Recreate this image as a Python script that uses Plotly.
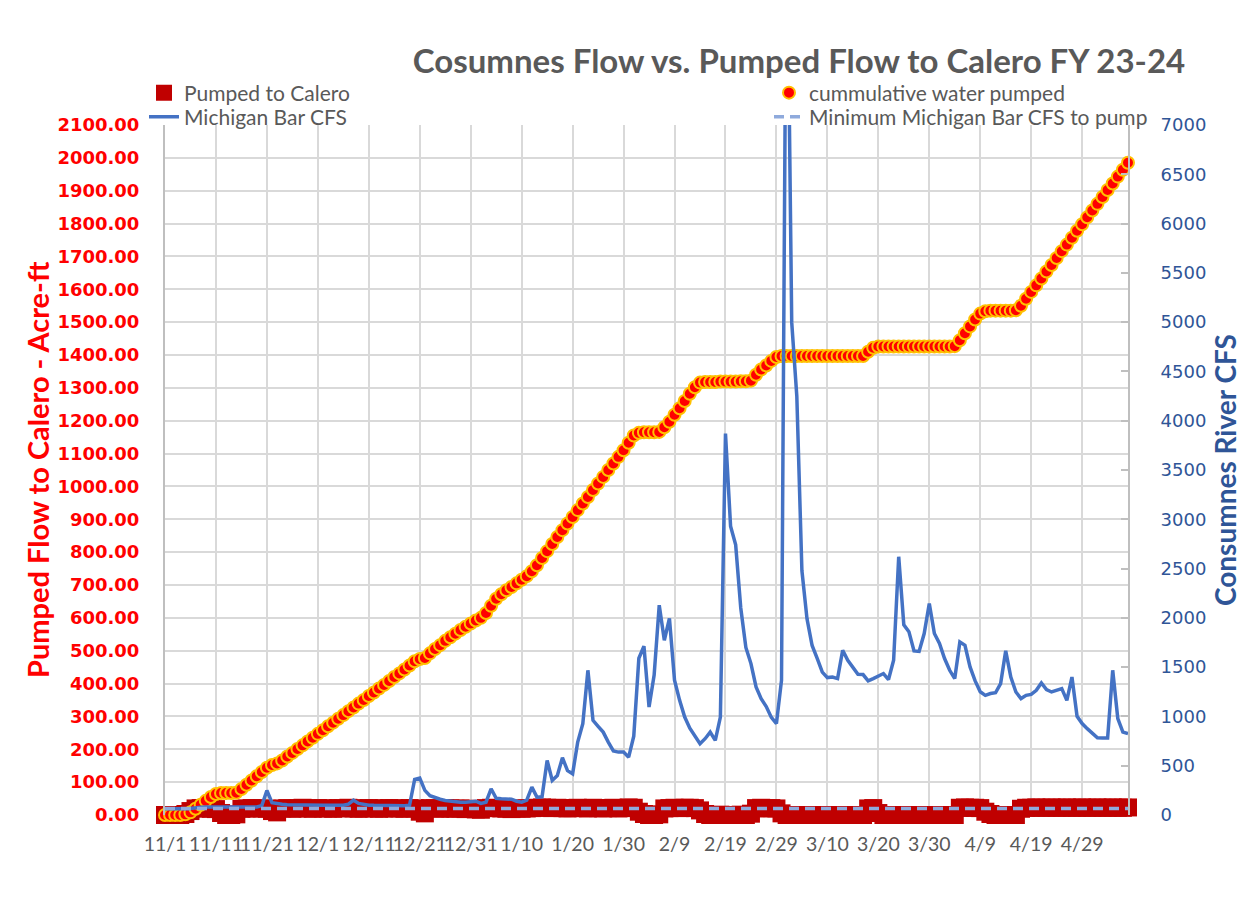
import plotly.graph_objects as go
import pandas as pd

# ---------------- data ----------------
dates = pd.date_range("2023-11-01", "2024-05-08", freq="D").strftime("%Y-%m-%d").tolist()

pumped_to_calero = [
    0, 0, 0, 0, 3, 12, 20, 21, 20, 19, 18, 6, 0, 0, 2, 19, 20, 21, 20, 20,
    19, 12, 8, 20, 21, 19, 20, 22, 20, 19, 21, 20, 20, 19, 21, 20, 22, 20, 19, 20,
    21, 20, 19, 20, 21, 20, 20, 19, 21, 20, 10, 5, 21, 20, 19, 21, 20, 19, 20, 18,
    19, 17, 16, 21, 22, 21, 20, 19, 18, 20, 19, 20, 21, 22, 23, 22, 21, 22, 21, 20,
    21, 22, 21, 20, 22, 21, 20, 21, 22, 20, 21, 23, 22, 10, 3, 0, 0, 2, 20, 21,
    22, 21, 22, 22, 21, 14, 3, 0, 0, 1, 0, 0, 0, 1, 0, 4, 21, 22, 20, 21,
    20, 5, 0, 0, 0, 0, 0, 0, 0, 0, 0, 0, 0, 0, 0, 0, 0, 0, 20, 21,
    6, 0, 0, 0, 0, 0, 0, 0, 0, 0, 0, 0, 0, 0, 0, 0, 22, 23, 22, 22,
    21, 10, 3, 0, 0, 0, 0, 0, 19, 22, 22, 23, 22, 22, 23, 22, 22, 23, 22, 22,
    23, 22, 22, 23, 22, 22, 23, 22, 22, 23,
]

cumulative_water_pumped = [
    0, 0, 0, 0, 2, 8, 19, 31, 43, 55, 64, 67, 67, 67, 68, 79, 92, 105, 118, 131,
    144, 152, 157, 166, 178, 189, 201, 212, 224, 235, 247, 258, 270, 281, 293, 304, 316, 327, 339, 350,
    362, 373, 385, 396, 408, 420, 431, 443, 455, 468, 475, 478, 492, 505, 517, 530, 541, 552, 563, 573,
    583, 592, 600, 615, 637, 658, 672, 684, 694, 705, 716, 727, 742, 760, 782, 803, 825, 846, 867, 887,
    907, 928, 948, 968, 989, 1009, 1029, 1050, 1070, 1090, 1110, 1133, 1155, 1163, 1165, 1165, 1165, 1166, 1180, 1197,
    1218, 1238, 1260, 1282, 1302, 1316, 1318, 1318, 1318, 1319, 1319, 1319, 1319, 1320, 1320, 1322, 1340, 1356, 1368, 1382,
    1394, 1397, 1397, 1397, 1397, 1397, 1397, 1397, 1397, 1397, 1397, 1397, 1397, 1397, 1397, 1397, 1397, 1397, 1410, 1422,
    1426, 1426, 1426, 1426, 1426, 1426, 1426, 1426, 1426, 1426, 1426, 1426, 1426, 1426, 1426, 1427, 1445, 1466, 1487, 1508,
    1526, 1533, 1535, 1535, 1535, 1535, 1535, 1536, 1550, 1571, 1592, 1612, 1633, 1654, 1674, 1695, 1716, 1736, 1757, 1778,
    1798, 1819, 1840, 1860, 1881, 1902, 1922, 1943, 1964, 1985,
]

michigan_bar_cfs = [
    63, 62, 60, 61, 63, 66, 75, 78, 80, 80, 79, 78, 78, 77, 77, 78, 78, 79, 82, 95,
    249, 125, 112, 108, 105, 103, 102, 101, 100, 100, 99, 99, 98, 98, 98, 99, 110, 150, 118, 105,
    100, 98, 97, 96, 95, 95, 94, 94, 100, 360, 375, 250, 195, 175, 160, 148, 140, 135, 130, 130,
    138, 140, 118, 130, 266, 170, 165, 162, 160, 140, 130, 150, 283, 181, 185, 554, 350, 400, 581, 450,
    418, 740, 927, 1468, 960, 900, 841, 740, 650, 638, 638, 587, 800, 1590, 1712, 1095, 1420, 2129, 1773, 1994,
    1367, 1163, 994, 880, 800, 723, 774, 841, 757, 994, 3870, 2930, 2740, 2100, 1700, 1536, 1300, 1180, 1100, 990,
    927, 1367, 9500, 5000, 4250, 2480, 1990, 1720, 1590, 1450, 1394, 1400, 1384, 1672, 1570, 1496, 1428, 1425, 1360, 1384,
    1410, 1435, 1374, 1570, 2620, 1930, 1860, 1665, 1660, 1841, 2146, 1841, 1740, 1587, 1468, 1384, 1756, 1722, 1502, 1360,
    1250, 1214, 1232, 1240, 1333, 1665, 1400, 1248, 1181, 1214, 1224, 1265, 1339, 1272, 1248, 1265, 1282, 1163, 1400, 1001,
    927, 876, 825, 784, 780, 780, 1468, 977, 841, 825,
]

MIN_CFS_TO_PUMP = 65
min_cfs_line = [MIN_CFS_TO_PUMP] * len(dates)

tick_dates = ["2023-11-01", "2023-11-11", "2023-11-21", "2023-12-01", "2023-12-11", "2023-12-21",
              "2023-12-31", "2024-01-10", "2024-01-20", "2024-01-30", "2024-02-09", "2024-02-19",
              "2024-02-29", "2024-03-10", "2024-03-20", "2024-03-30", "2024-04-09", "2024-04-19",
              "2024-04-29"]
tick_labels = ["11/1", "11/11", "11/21", "12/1", "12/11", "12/21", "12/31", "1/10", "1/20", "1/30",
               "2/9", "2/19", "2/29", "3/10", "3/20", "3/30", "4/9", "4/19", "4/29"]

# ---------------- layout geometry (page px; the page body adds an 8px margin) ----------------
OFF = 8
W, H = 1235, 909 - 2 * OFF
PL, PR, PT, PB = 165, 1128, 125, 815          # plot area edges on the page
L, R, T, B = PL - OFF, (W + OFF) - PR, PT - OFF, (H + OFF) - PB
PW, PH = W - L - R, H - T - B


def px_x(x):
    return (x - PL) / PW


def px_y(y):
    return (PB - y) / PH


GRAY = "#595959"
fig = go.Figure()

fig.add_trace(go.Scatter(
    x=dates, y=pumped_to_calero, name="Pumped to Calero", mode="markers",
    marker=dict(symbol="square", size=18, color="#C00000"),
    cliponaxis=False, legend="legend", yaxis="y"))

fig.add_trace(go.Scatter(
    x=dates, y=cumulative_water_pumped, name="cummulative water pumped", mode="markers",
    marker=dict(symbol="circle", size=12, color="#FF0000", line=dict(color="#FFC000", width=2)),
    cliponaxis=False, legend="legend2", yaxis="y"))

fig.add_trace(go.Scatter(
    x=dates, y=michigan_bar_cfs, name="Michigan Bar CFS", mode="lines",
    line=dict(color="#4472C4", width=3.5),
    legend="legend3", yaxis="y2"))

fig.add_trace(go.Scatter(
    x=dates, y=min_cfs_line, name="Minimum Michigan Bar CFS to pump", mode="lines",
    line=dict(color="#8FAADC", width=3.5, dash="10px,6px"),
    legend="legend4", yaxis="y2"))


def leg(x_text, y_center):
    return dict(
        orientation="v", xanchor="left", yanchor="middle",
        x=px_x(x_text - 41), y=px_y(y_center),
        font=dict(family="Lato", size=21, color=GRAY),
        bgcolor="rgba(0,0,0,0)", itemsizing="trace",
    )


fig.update_layout(
    width=W, height=H,
    margin=dict(l=L, r=R, t=T, b=B, autoexpand=False),
    paper_bgcolor="white", plot_bgcolor="white",
    title=dict(text="<b>Cosumnes Flow vs. Pumped Flow to Calero FY 23-24</b>",
               x=(799 - OFF) / W, xref="container", xanchor="center",
               y=1 - (61 - OFF) / H, yref="container", yanchor="middle",
               font=dict(family="Lato", size=33, color=GRAY)),
    showlegend=True,
    legend=leg(185, 93),
    legend2=leg(810, 93),
    legend3=leg(185, 117),
    legend4=leg(810, 117),
    xaxis=dict(
        type="date", range=["2023-11-01", "2024-05-08"],
        tickmode="array", tickvals=tick_dates, ticktext=tick_labels, tickangle=0,
        showgrid=True, gridcolor="#D9D9D9", gridwidth=2,
        showline=False, zeroline=False, ticks="", ticklabelstandoff=15,
        tickfont=dict(family="Lato", size=19.5, color=GRAY),
    ),
    yaxis=dict(
        range=[0, 2100], dtick=100, tickformat=".2f",
        showgrid=True, gridcolor="#D9D9D9", gridwidth=2,
        showline=True, linecolor="#BFBFBF", linewidth=2, zeroline=False,
        ticks="", ticklabelstandoff=20,
        tickfont=dict(family="DejaVu Sans", size=18, color="#FF0000", weight="bold"),
    ),
    yaxis2=dict(
        range=[0, 7000], dtick=500, overlaying="y", side="right",
        showgrid=False, showline=True, linecolor="#BFBFBF", linewidth=2, zeroline=False,
        ticks="inside", ticklen=7, tickcolor="#BFBFBF", tickwidth=2, ticklabelstandoff=27,
        tickfont=dict(family="DejaVu Sans", size=18, color="#2F5597"),
    ),
    annotations=[
        dict(text="<b>Pumped Flow to Calero - Acre-ft</b>", textangle=-90,
             x=px_x(37), y=px_y(470), xref="paper", yref="paper",
             xanchor="center", yanchor="middle", showarrow=False,
             font=dict(family="Lato", size=29, color="#FF0000")),
        dict(text="<b>Consumnes River CFS</b>", textangle=-90,
             x=px_x(1225), y=px_y(470), xref="paper", yref="paper",
             xanchor="center", yanchor="middle", showarrow=False,
             font=dict(family="Lato", size=28, color="#2F5597")),
    ],
)

fig.write_html("out.html")
